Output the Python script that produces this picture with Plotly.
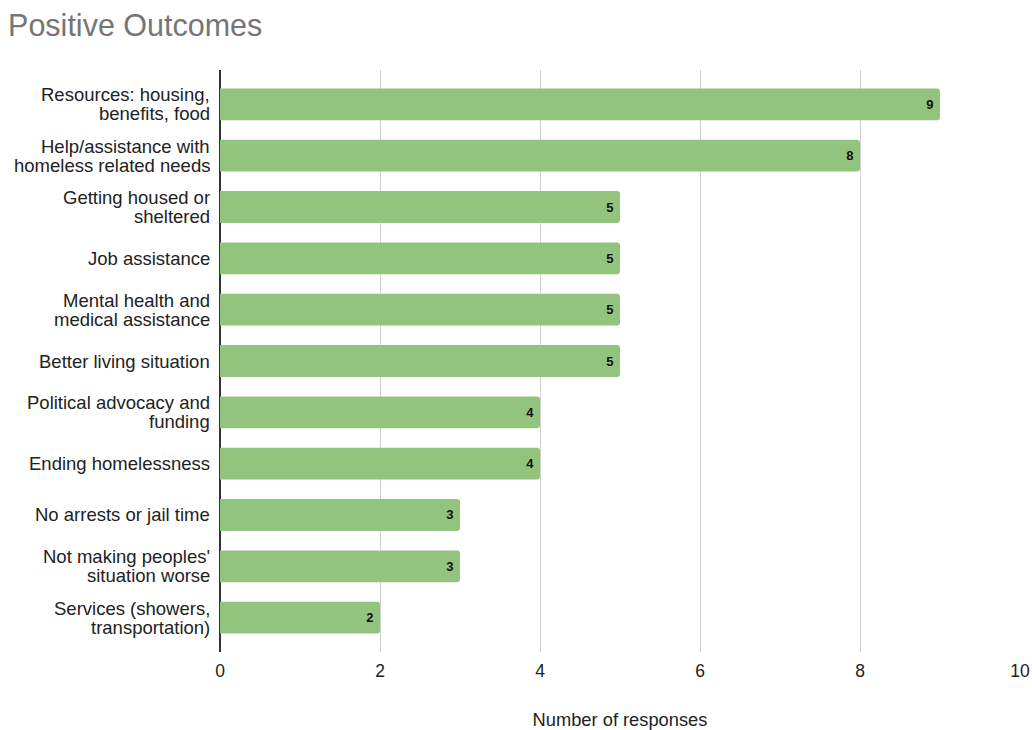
import plotly.graph_objects as go

categories = [
    "Resources: housing,<br>benefits, food",
    "Help/assistance with<br>homeless related needs",
    "Getting housed or<br>sheltered",
    "Job assistance",
    "Mental health and<br>medical assistance",
    "Better living situation",
    "Political advocacy and<br>funding",
    "Ending homelessness",
    "No arrests or jail time",
    "Not making peoples'<br>situation worse",
    "Services (showers,<br>transportation)",
]
responses = [9, 8, 5, 5, 5, 5, 4, 4, 3, 3, 2]
x_ticks = [0, 2, 4, 6, 8, 10]

FONT = "Liberation Sans, Arial, sans-serif"
LABEL_SIZE = 18.5
LINE_GAP = 19

fig = go.Figure(go.Bar(
    x=responses,
    y=categories,
    orientation="h",
    marker=dict(color="#93c47d", line=dict(width=0)),
    text=[f"<b>{v}</b>&nbsp;" for v in responses],
    textposition="inside",
    insidetextanchor="end",
    textfont=dict(family=FONT, size=13, color="#111111"),
    textangle=0,
))

# category labels drawn with tight line spacing
for cat in categories:
    lines = cat.split("<br>")
    n = len(lines)
    for i, line in enumerate(lines):
        offset = ((n - 1) / 2 - i) * LINE_GAP
        fig.add_annotation(
            x=0, xref="paper", xanchor="right", xshift=-8,
            y=cat, yref="y", yanchor="middle", yshift=offset,
            text=line, showarrow=False,
            font=dict(family=FONT, size=LABEL_SIZE, color="#222222"),
        )

fig.update_layout(
    width=1032, height=730,
    margin=dict(l=220, r=12, t=70, b=78, autoexpand=False),
    paper_bgcolor="white", plot_bgcolor="white",
    font=dict(family=FONT, size=17, color="#222222"),
    title=dict(text="Positive Outcomes", x=0.0078, xanchor="left", y=0.9658, yanchor="middle",
               font=dict(size=30.5, color="#757575", family=FONT)),
    bargap=0.38,
    barcornerradius=3,
    showlegend=False,
)
fig.update_xaxes(
    range=[0, 10], tickvals=x_ticks, ticktext=[str(t) for t in x_ticks],
    showgrid=True, gridcolor="#d0d0d0", gridwidth=1,
    zeroline=True, zerolinecolor="#333333", zerolinewidth=1.5,
    showline=False, ticks="", ticklabelstandoff=6, automargin=False,
    tickfont=dict(size=17.5, color="#222222"),
    title=dict(text="Number of responses", font=dict(size=18.3, color="#222222"), standoff=35),
)
fig.update_yaxes(
    range=[10.67, -0.67], showgrid=False, zeroline=False, showline=False,
    ticks="", showticklabels=False, automargin=False,
)

fig.write_html(
    "out.html",
    config={"displayModeBar": False},
    post_script="document.body.style.margin='0';document.body.style.overflow='hidden';",
)
